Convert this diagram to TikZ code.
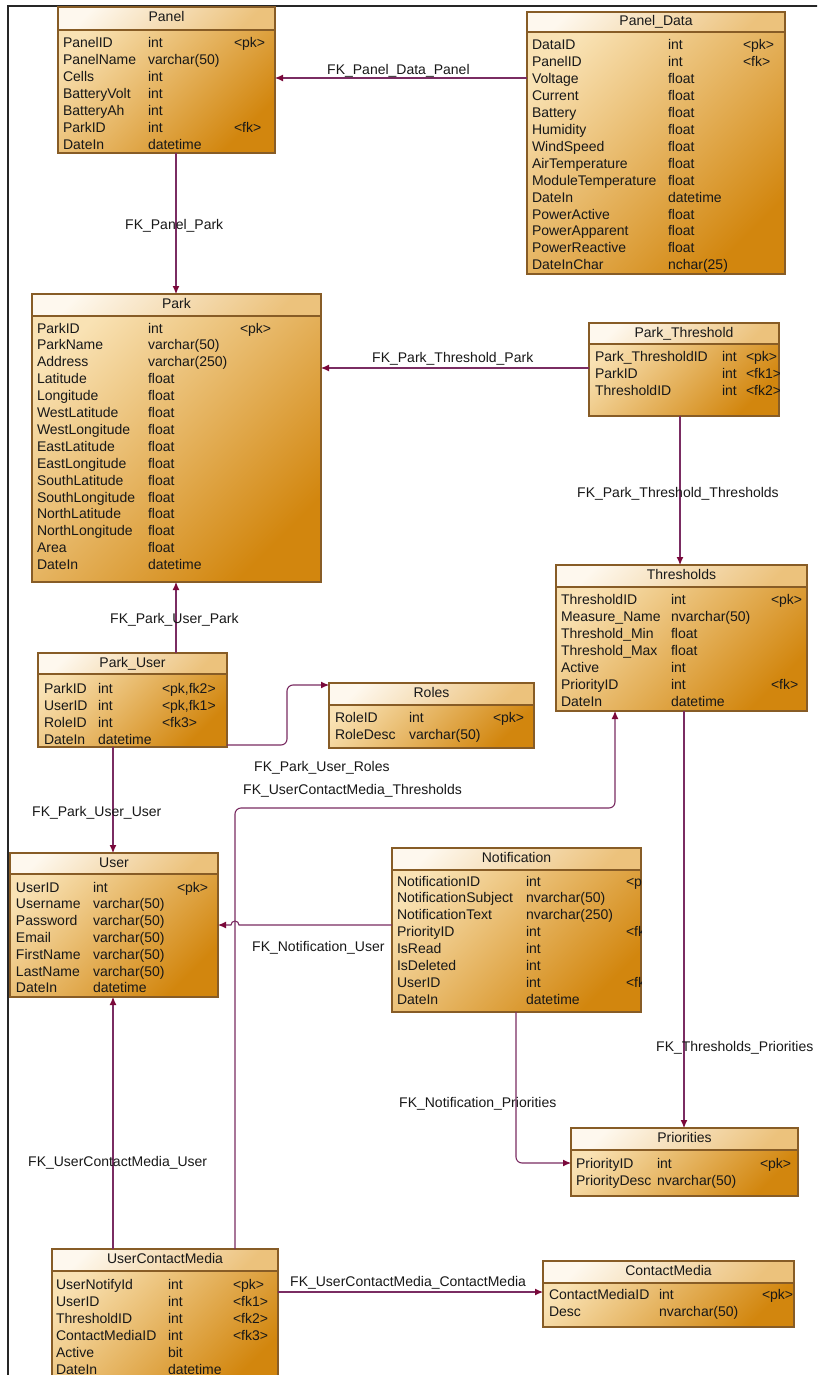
\documentclass[tikz,border=0pt]{standalone}
\usepackage{fontspec}
\setmainfont{Liberation Sans}
\usetikzlibrary{arrows.meta}

\definecolor{bodylight}{RGB}{249,226,180}
\definecolor{bodydark}{RGB}{210,134,14}
\definecolor{headlight}{RGB}{254,248,238}
\definecolor{headdark}{RGB}{236,194,124}
\definecolor{boxedge}{RGB}{135,92,38}
\definecolor{fkline}{RGB}{122,44,98}
\definecolor{fkhead}{RGB}{122,8,58}
\definecolor{txt}{RGB}{24,24,24}

\tikzset{
  bodybox/.style={inner sep=0pt, outer sep=0pt, top color=bodylight,
    bottom color=bodydark, shading angle=45},
  headbox/.style={inner sep=0pt, outer sep=0pt, top color=headlight,
    bottom color=headdark, shading angle=45, text=txt,
    text height=10pt, text depth=3pt},
  boxline/.style={draw=boxedge, line width=1.1pt},
  cell/.style={anchor=base west, inner sep=0pt, outer sep=0pt, text=txt},
  fk/.style={draw=fkline, line width=1.1pt,
    -{Latex[length=8pt,width=7pt,color=fkhead]}},
  fklabel/.style={anchor=base west, inner sep=0pt, text=txt},
}

% table frame: id, left, top, right, header bottom, bottom, title
\newcommand\erdtable[7]{%
  \node[bodybox, anchor=north west, minimum width={#4-#2},
        minimum height={#6-#3}] (#1) at (#2,#3) {};
  \node[headbox, anchor=north west, minimum width={#4-#2},
        minimum height={#5-#3}] (#1-head) at (#2,#3) {#7};
  \draw[boxline] (#1-head.south west) -- (#1-head.south east);
  \draw[boxline] (#1.north west) rectangle (#1.south east);
}
% table columns: id, name x, type x, key x, first row centre y, pitch, rows
\newcommand\erdrows[7]{%
  \begin{scope}
    \clip (#1.north west) rectangle (#1.south east);
    \foreach \fn/\ft/\fkey [count=\i] in {#7} {
      \pgfmathsetmacro\yy{#5+(\i-1)*#6+5}
      \node[cell] (#1-n\i) at (#2,\yy) {\fn};
      \node[cell] (#1-t\i) at (#3,\yy) {\ft};
      \node[cell] (#1-k\i) at (#4,\yy) {\fkey};
    }
  \end{scope}
}

\begin{document}
\begin{tikzpicture}[x=1pt, y=-1pt, font=\fontsize{14}{17}\selectfont]
\clip (0,0) rectangle (817,1375);
\fill[white] (0,0) rectangle (817,1375);
\draw[line width=1.3pt, black!85] (8,1380) -- (8,6) -- (820,6);

% ---------- tables ----------
\erdtable{panel}{58}{7}{275}{30}{153}{Panel}
\erdrows{panel}{63}{148}{234}{43}{17}{
  PanelID/int/{<pk>}, PanelName/varchar(50)/{}, Cells/int/{},
  BatteryVolt/int/{}, BatteryAh/int/{}, ParkID/int/{<fk>}, DateIn/datetime/{}}

\erdtable{paneldata}{527}{12}{785}{32}{274}{Panel\_Data}
\erdrows{paneldata}{532}{668}{743}{45}{16.9}{
  DataID/int/{<pk>}, PanelID/int/{<fk>}, Voltage/float/{}, Current/float/{},
  Battery/float/{}, Humidity/float/{}, WindSpeed/float/{},
  AirTemperature/float/{}, ModuleTemperature/float/{}, DateIn/datetime/{},
  PowerActive/float/{}, PowerApparent/float/{}, PowerReactive/float/{},
  DateInChar/nchar(25)/{}}

\erdtable{park}{32}{294}{321}{316}{582}{Park}
\erdrows{park}{37}{148}{240}{328}{16.9}{
  ParkID/int/{<pk>}, ParkName/varchar(50)/{}, Address/varchar(250)/{},
  Latitude/float/{}, Longitude/float/{}, WestLatitude/float/{},
  WestLongitude/float/{}, EastLatitude/float/{}, EastLongitude/float/{},
  SouthLatitude/float/{}, SouthLongitude/float/{}, NorthLatitude/float/{},
  NorthLongitude/float/{}, Area/float/{}, DateIn/datetime/{}}

\erdtable{parkth}{589}{323}{779}{344}{416}{Park\_Threshold}
\erdrows{parkth}{595}{722}{746}{356}{17}{
  Park\_ThresholdID/int/{<pk>}, ParkID/int/{<fk1>}, ThresholdID/int/{<fk2>}}

\erdtable{thresholds}{556}{565}{807}{587}{711}{Thresholds}
\erdrows{thresholds}{561}{671}{771}{599}{17}{
  ThresholdID/int/{<pk>}, Measure\_Name/nvarchar(50)/{},
  Threshold\_Min/float/{}, Threshold\_Max/float/{}, Active/int/{},
  PriorityID/int/{<fk>}, DateIn/datetime/{}}

\erdtable{parkuser}{38}{653}{227}{674}{747}{Park\_User}
\erdrows{parkuser}{44}{98}{162}{688}{17}{
  ParkID/int/{<pk,fk2>}, UserID/int/{<pk,fk1>}, RoleID/int/{<fk3>},
  DateIn/datetime/{}}

\erdtable{roles}{329}{683}{534}{705}{748}{Roles}
\erdrows{roles}{335}{409}{493}{717}{17}{
  RoleID/int/{<pk>}, RoleDesc/varchar(50)/{}}

\erdtable{user}{10}{853}{218}{874}{997}{User}
\erdrows{user}{16}{93}{177}{887}{16.8}{
  UserID/int/{<pk>}, Username/varchar(50)/{}, Password/varchar(50)/{},
  Email/varchar(50)/{}, FirstName/varchar(50)/{}, LastName/varchar(50)/{},
  DateIn/datetime/{}}

\erdtable{notification}{392}{848}{641}{870}{1012}{Notification}
\erdrows{notification}{397}{526}{626}{881}{16.9}{
  NotificationID/int/{<pk>}, NotificationSubject/nvarchar(50)/{},
  NotificationText/nvarchar(250)/{}, PriorityID/int/{<fk1>},
  IsRead/int/{}, IsDeleted/int/{}, UserID/int/{<fk2>}, DateIn/datetime/{}}

\erdtable{priorities}{571}{1128}{798}{1150}{1196}{Priorities}
\erdrows{priorities}{576}{657}{760}{1163}{17}{
  PriorityID/int/{<pk>}, PriorityDesc/nvarchar(50)/{}}

\erdtable{ucm}{52}{1249}{278}{1271}{1390}{UserContactMedia}
\erdrows{ucm}{56}{168}{233}{1284}{17}{
  UserNotifyId/int/{<pk>}, UserID/int/{<fk1>}, ThresholdID/int/{<fk2>},
  ContactMediaID/int/{<fk3>}, Active/bit/{}, DateIn/datetime/{}}

\erdtable{contactmedia}{543}{1261}{794}{1283}{1327}{ContactMedia}
\erdrows{contactmedia}{549}{659}{762}{1294}{17}{
  ContactMediaID/int/{<pk>}, Desc/nvarchar(50)/{}}

% ---------- foreign keys ----------
\draw[fk] (paneldata.west |- 0,78) -- (panel.east |- 0,78);
\draw[fk] (panel.south -| 176,0) -- (park.north -| 176,0);
\draw[fk] (parkth.west |- 0,368) -- (park.east |- 0,368);
\draw[fk] (parkth.south -| 680,0) -- (thresholds.north -| 680,0);
\draw[fk] (parkuser.north -| 176,0) -- (park.south -| 176,0);
\draw[fk, rounded corners=6pt] (parkuser.east |- 0,745) -- (287,745)
  -- (287,685) -- (roles.west |- 0,685);
\draw[fk] (parkuser.south -| 113,0) -- (user.north -| 113,0);
\draw[fk, rounded corners=6pt] (ucm.north -| 235,0) -- (235,808)
  -- (615,808) -- (thresholds.south -| 615,0);
\draw[fk] (notification.west |- 0,925) -- (239,925)
  arc[start angle=0, end angle=-180, radius=4] -- (user.east |- 0,925);
\draw[fk, rounded corners=6pt] (notification.south -| 516,0) -- (516,1163)
  -- (priorities.west |- 0,1163);
\draw[fk] (thresholds.south -| 684,0) -- (priorities.north -| 684,0);
\draw[fk] (ucm.north -| 113,0) -- (user.south -| 113,0);
\draw[fk] (ucm.east |- 0,1292) -- (contactmedia.west |- 0,1292);

% ---------- relationship names ----------
\node[fklabel] (l1) at (327,75) {FK\_Panel\_Data\_Panel};
\node[fklabel] (l2) at (125,229) {FK\_Panel\_Park};
\node[fklabel] (l3) at (372,362) {FK\_Park\_Threshold\_Park};
\node[fklabel] (l4) at (577,497) {FK\_Park\_Threshold\_Thresholds};
\node[fklabel] (l5) at (110,623) {FK\_Park\_User\_Park};
\node[fklabel] (l6) at (254,771) {FK\_Park\_User\_Roles};
\node[fklabel] (l7) at (243,794) {FK\_UserContactMedia\_Thresholds};
\node[fklabel] (l8) at (32,816) {FK\_Park\_User\_User};
\node[fklabel] (l9) at (252,951) {FK\_Notification\_User};
\node[fklabel] (l10) at (656,1051) {FK\_Thresholds\_Priorities};
\node[fklabel] (l11) at (399,1107) {FK\_Notification\_Priorities};
\node[fklabel] (l12) at (28,1166) {FK\_UserContactMedia\_User};
\node[fklabel] (l13) at (290,1286) {FK\_UserContactMedia\_ContactMedia};
\end{tikzpicture}
\end{document}
